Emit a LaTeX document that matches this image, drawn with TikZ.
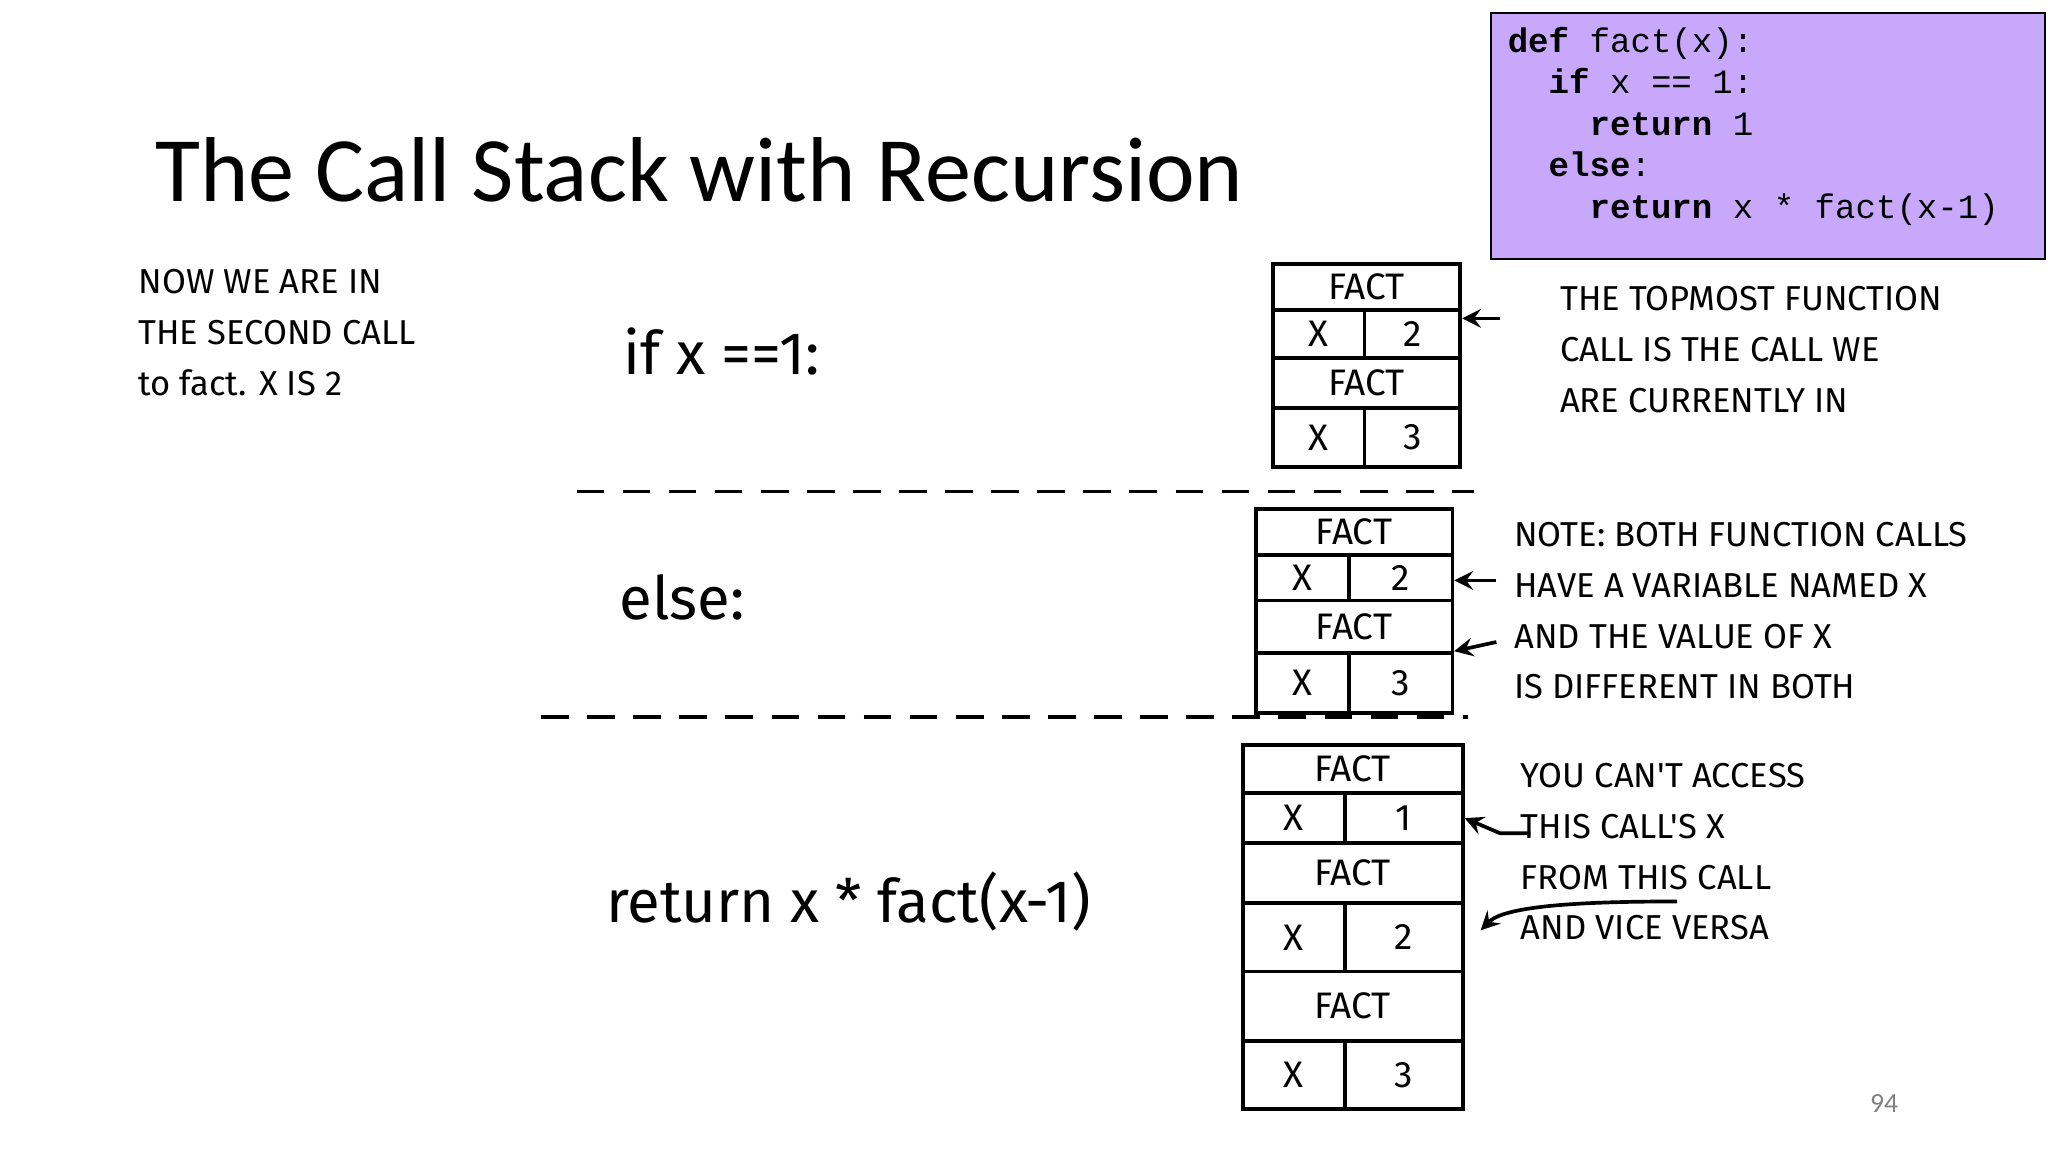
\documentclass[tikz,border=0pt]{standalone}
\usepackage{fontspec}
\setmainfont{Carlito}
\newfontfamily\hand{Fira Sans}
\newfontfamily\code{Liberation Mono}
\definecolor{codebg}{RGB}{200,168,250}
\begin{document}
\begin{tikzpicture}[x=0.01cm,y=-0.01cm,
  cell/.style={draw,thick,minimum height=#1*0.01cm,inner sep=0pt,font=\hand\fontsize{8}{10}\selectfont},
  hw/.style={font=\hand\fontsize{7.5}{11}\selectfont,align=left,anchor=north west,inner sep=0pt},
  big/.style={font=\hand\fontsize{13}{15}\selectfont,anchor=west,inner sep=0pt},
  arr/.style={->,thick,>=stealth},
  sep/.style={thick,dash pattern=on 6pt off 4pt}]
\useasboundingbox (0,0) rectangle (1563,880);
% title
\node[anchor=west,inner sep=0pt,font=\fontsize{20}{24}\selectfont] (title) at (118,130) {The Call Stack with Recursion};
% code box
\node[draw,fill=codebg,anchor=north west,minimum width=423*0.01cm,minimum height=188*0.01cm,inner sep=0pt] (box) at (1137,9) {};
\node[anchor=north west,inner sep=0pt,align=left,font=\code\fontsize{7.4}{9.0}\selectfont] (code) at (1150,20)
{\textbf{def} fact(x):\\
\ \ \textbf{if} x == 1:\\
\ \ \ \ \textbf{return} 1\\
\ \ \textbf{else}:\\
\ \ \ \ \textbf{return} x * fact(x-1)};
% left notes
\node[hw] (note) at (105,205) {NOW WE ARE IN\\THE SECOND CALL\\to fact. X IS 2};
\node[big] (l1) at (475,268) {if x ==1:};
\node[big] (l2) at (472,456) {else:};
\node[big] (l3) at (462,688) {return x * fact(x-1)};
% dashed separators
\draw[sep] (440,375) -- (1125,375);
\draw[sep] (413,547) -- (1120,547);
% stack 1
\node[cell=35,minimum width=143*0.01cm,anchor=north west] (a1) at (970,200) {FACT};
\node[cell=37,minimum width=70*0.01cm,anchor=north west] (a2) at (970,235) {X};
\node[cell=37,minimum width=73*0.01cm,anchor=north west] (a3) at (1040,235) {2};
\node[cell=38,minimum width=143*0.01cm,anchor=north west] (a4) at (970,272) {FACT};
\node[cell=45,minimum width=70*0.01cm,anchor=north west] (a5) at (970,310) {X};
\node[cell=45,minimum width=73*0.01cm,anchor=north west] (a6) at (1040,310) {3};
% stack 2
\node[cell=35,minimum width=150*0.01cm,anchor=north west] (b1) at (957,387) {FACT};
\node[cell=35,minimum width=71*0.01cm,anchor=north west] (b2) at (957,422) {X};
\node[cell=35,minimum width=79*0.01cm,anchor=north west] (b3) at (1028,422) {2};
\node[cell=40,minimum width=150*0.01cm,anchor=north west] (b4) at (957,457) {FACT};
\node[cell=46,minimum width=71*0.01cm,anchor=north west] (b5) at (957,497) {X};
\node[cell=46,minimum width=79*0.01cm,anchor=north west] (b6) at (1028,497) {3};
% stack 3
\node[cell=37,minimum width=168*0.01cm,anchor=north west] (c1) at (947,567) {FACT};
\node[cell=38,minimum width=78*0.01cm,anchor=north west] (c2) at (947,604) {X};
\node[cell=38,minimum width=90*0.01cm,anchor=north west] (c3) at (1025,604) {1};
\node[cell=46,minimum width=168*0.01cm,anchor=north west] (c4) at (947,642) {FACT};
\node[cell=52,minimum width=78*0.01cm,anchor=north west] (c5) at (947,688) {X};
\node[cell=52,minimum width=90*0.01cm,anchor=north west] (c6) at (1025,688) {2};
\node[cell=53,minimum width=168*0.01cm,anchor=north west] (c7) at (947,740) {FACT};
\node[cell=52,minimum width=78*0.01cm,anchor=north west] (c8) at (947,793) {X};
\node[cell=52,minimum width=90*0.01cm,anchor=north west] (c9) at (1025,793) {3};
% right notes
\node[hw] (n1) at (1190,218) {THE TOPMOST FUNCTION\\CALL IS THE CALL WE\\ARE CURRENTLY IN};
\node[hw] (n2) at (1155,398) {NOTE: BOTH FUNCTION CALLS\\HAVE A VARIABLE NAMED X\\AND THE VALUE OF X\\IS DIFFERENT IN BOTH};
\node[hw] (n3) at (1160,582) {YOU CAN'T ACCESS\\THIS CALL'S X\\FROM THIS CALL\\AND VICE VERSA};
\coordinate (p1) at (1145,243);
\coordinate (p2) at (1142,443);
\coordinate (p3) at (1142,490);
\coordinate (p4) at (1168,636);
\coordinate (p5) at (1280,688);
\draw[arr] (p1) -- (a3.east |- p1);
\draw[arr] (p2) -- (b3.east |- p2);
\draw[arr] (p3) -- (b6.north east);
\draw[arr] (p4) -- (1145,636) -- (c3.east);
\draw[arr] (p5) .. controls (1220,688) and (1150,690) .. (1130,710);
% page number
\node[font=\fontsize{6}{7}\selectfont,text=gray] (pg) at (1438,842) {94};
\end{tikzpicture}
\end{document}
